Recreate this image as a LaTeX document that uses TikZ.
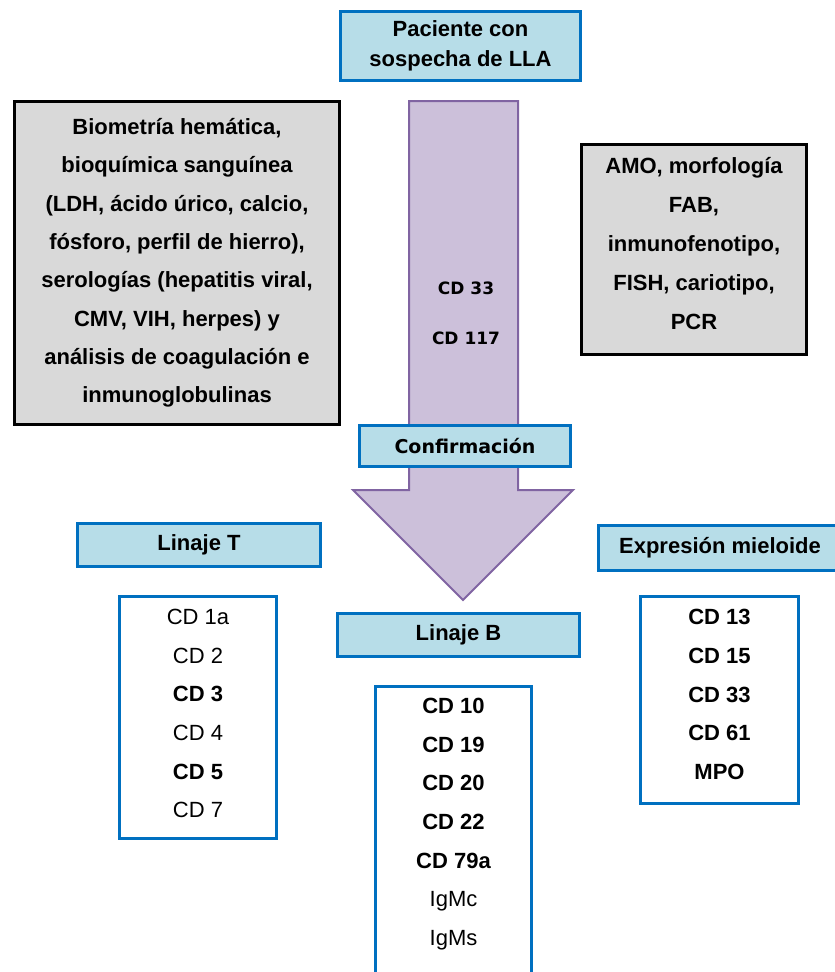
\documentclass[tikz,border=0pt]{standalone}
\usepackage{fontspec}
\setmainfont{Liberation Sans}
\newfontfamily\tahoma{DejaVu Sans}
\definecolor{celeste}{HTML}{B7DDE8}
\definecolor{azul}{HTML}{0070C0}
\definecolor{gris}{HTML}{D9D9D9}
\definecolor{lila}{HTML}{CCC0DA}
\definecolor{morado}{HTML}{8064A2}

\begin{document}
\begin{tikzpicture}
[x=1pt,y=-1pt,%
  every node/.style={inner sep=0pt,align=center,%
    font=\fontsize{22}{38.7}\selectfont\bfseries},%
  cabecera/.style={draw=azul,fill=celeste,line width=3pt},%
  estudio/.style={draw=black,fill=gris,line width=3pt},%
  lista/.style={draw=azul,fill=white,line width=3pt},%
  marcador/.style={font=\tahoma\fontsize{17}{50}\selectfont\bfseries}]
\clip (0,0) rectangle (835,972);
\filldraw[fill=lila,draw=morado,line width=2pt]
  (409,101) -- (518,101) -- (518,490) -- (573,490) -- (463,600)
  -- (353,490) -- (409,490) -- cycle;
\node[marcador] (cd) at (466,313) {CD 33\\CD 117};
\node[cabecera,minimum width=240,minimum height=69,%
  font=\fontsize{22}{30}\selectfont\bfseries] (paciente) at (460.5,46)
  {Paciente con\\sospecha de LLA};
\node[estudio,minimum width=325,minimum height=323,%
  font=\fontsize{22}{38.3}\selectfont\bfseries] (estudios) at (177,263)
  {Biometría hemática,\\bioquímica sanguínea\\(LDH, ácido úrico, calcio,\\
   fósforo, perfil de hierro),\\serologías (hepatitis viral,\\
   CMV, VIH, herpes) y\\análisis de coagulación e\\inmunoglobulinas};
\node[estudio,minimum width=225,minimum height=210] (diagnostico) at (694,249.5) {};
\node[font=\fontsize{22}{39.2}\selectfont\bfseries] (diagtexto) at (694,243.5)
  {AMO, morfología\\FAB,\\inmunofenotipo,\\FISH, cariotipo,\\PCR};
\node[cabecera,minimum width=211,minimum height=41,%
  font=\tahoma\fontsize{19}{22}\selectfont\bfseries] (confirmacion) at (465,446)
  {Confirmación};
\node[cabecera,minimum width=243,minimum height=43] (linajeT) at (199,545) {Linaje T};
\node[cabecera,minimum width=242,minimum height=43] (linajeB) at (458.5,635) {Linaje B};
\node[cabecera,minimum width=243,minimum height=45] (mieloide) at (720,548)
  {Expresión mieloide};
\node[lista,minimum width=157,minimum height=242] (listaT) at (198,717.5) {};
\node (textoT) at (198,713.5)
  {\mdseries CD 1a\\\mdseries CD 2\\CD 3\\\mdseries CD 4\\CD 5\\\mdseries CD 7};
\node[lista,minimum width=156,minimum height=302] (listaB) at (453.5,837.5) {};
\node (textoB) at (453.5,824)
  {CD 10\\CD 19\\CD 20\\CD 22\\CD 79a\\\mdseries IgMc\\\mdseries IgMs};
\node[lista,minimum width=158,minimum height=207] (listaM) at (719.5,700) {};
\node (textoM) at (719.5,694.5) {CD 13\\CD 15\\CD 33\\CD 61\\MPO};
\end{tikzpicture}
\end{document}
